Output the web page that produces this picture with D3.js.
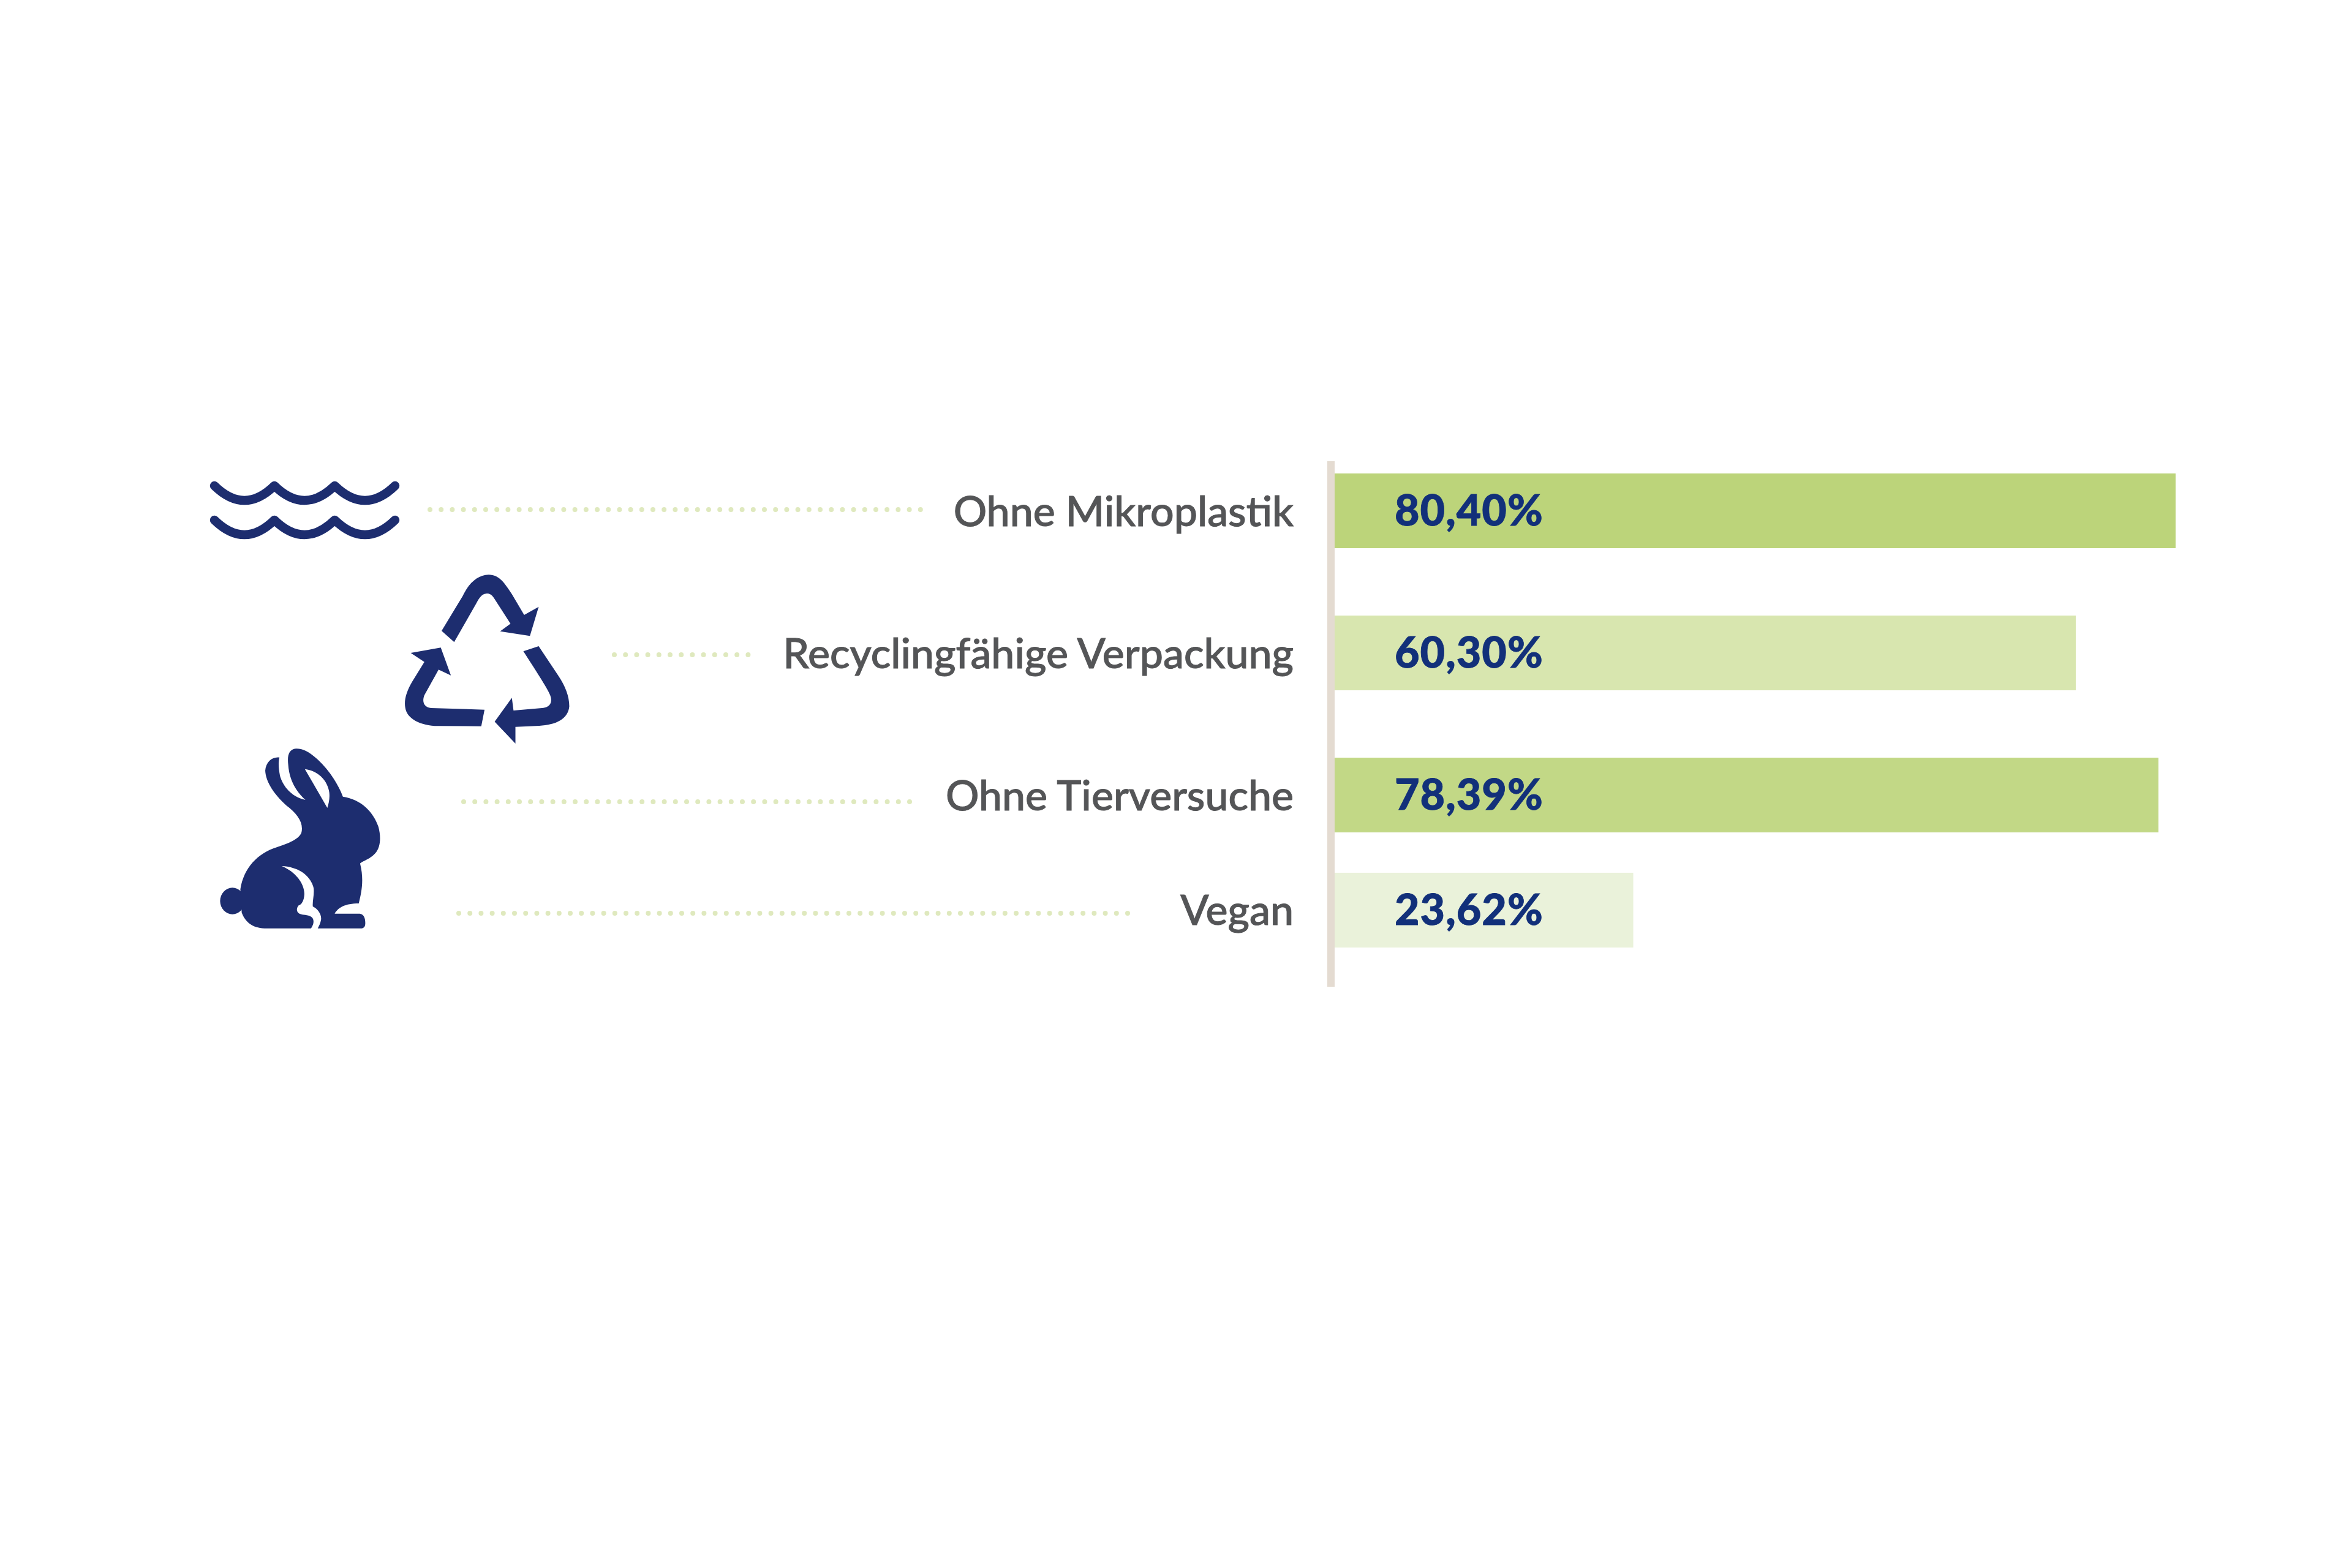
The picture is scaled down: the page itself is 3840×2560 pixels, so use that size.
<!DOCTYPE html>
<html lang="de">
<head>
<meta charset="utf-8">
<title>Produkteigenschaften</title>
<script src="https://cdn.jsdelivr.net/npm/d3@7/dist/d3.min.js"></script>
<style>
html,body{margin:0;padding:0;background:#fff}
svg{display:block}
</style>
</head>
<body>
<div id="chart"></div>
<script>
// Data
const categories = ["Ohne Mikroplastik", "Recyclingfähige Verpackung", "Ohne Tierversuche", "Vegan"];
const valueLabels = ["80,40%", "60,30%", "78,39%", "23,62%"];
// Bar lengths as drawn in the picture, in percent on the scale of the first bar
const barLengths = [80.40, 70.86, 78.76, 28.55];
const barColors = ["#BCD47A", "#D8E6AF", "#C2D886", "#EAF2DA"];
// Row position in units of the regular row step (the last row sits closer)
const rowSlots = [0, 1, 2, 2.81];
// Leader line extents, in page pixels
const leaderStart = [702, 1003, 757, 749];
const leaderEnd = [1505, 1224, 1486, 1843];
const leaderY = [832, 1069, 1309, 1491];

const W = 3840, H = 2560;
const x0 = 2179;
const x = d3.scaleLinear().domain([0, 80.40]).range([x0, 3552]);
const y = d3.scaleLinear().domain([0, 1]).range([773, 1005]);
const barH = 122;
const navy = "#1D2D6F", textNavy = "#12307A", grey = "#545557", dotCol = "#DFE9BE", axisCol = "#E4DBD1";

const svg = d3.select("#chart").append("svg").attr("width", W).attr("height", H).attr("viewBox", `0 0 ${W} ${H}`);
svg.append("rect").attr("width", W).attr("height", H).attr("fill", "#fff");

// Bars
svg.append("g").selectAll("rect").data(categories).join("rect")
  .attr("x", x(0))
  .attr("y", (d, i) => y(rowSlots[i]))
  .attr("width", (d, i) => x(barLengths[i]) - x(0))
  .attr("height", barH)
  .attr("fill", (d, i) => barColors[i]);

// Axis line
svg.append("rect").attr("x", 2167).attr("y", 753).attr("width", 12).attr("height", 858).attr("fill", axisCol);

// Category labels
svg.append("g").selectAll("text").data(categories).join("text")
  .attr("x", 2112)
  .attr("y", (d, i) => y(rowSlots[i]) + 85.5)
  .attr("text-anchor", "end")
  .attr("font-family", "Lato, 'Open Sans', sans-serif")
  .attr("font-size", 68)
  .attr("font-weight", 500)
  .attr("fill", grey)
  .attr("stroke", grey)
  .attr("stroke-width", 1)
  .text(d => d);

// Value labels
svg.append("g").selectAll("text").data(valueLabels).join("text")
  .attr("x", 2277)
  .attr("y", (d, i) => y(rowSlots[i]) + 85)
  .attr("font-family", "Lato, 'Open Sans', sans-serif")
  .attr("font-size", 70)
  .attr("font-weight", 900)
  .attr("letter-spacing", 1)
  .attr("fill", textNavy)
  .attr("stroke", textNavy)
  .attr("stroke-width", 0.8)
  .text(d => d);

// Dotted leaders
svg.append("g").selectAll("line").data(categories).join("line")
  .attr("x1", (d, i) => leaderStart[i])
  .attr("x2", (d, i) => leaderEnd[i])
  .attr("y1", (d, i) => leaderY[i])
  .attr("y2", (d, i) => leaderY[i])
  .attr("stroke", dotCol)
  .attr("stroke-width", 8)
  .attr("stroke-linecap", "round")
  .attr("stroke-dasharray", "0 18.2");

// Icons
const icons = svg.append("g").attr("class", "icons");
const wave = "M350,793Q399,841 448,793Q497,841 546.5,793Q596,841 645,793";
[0, 56].forEach(dy => icons.append("path")
  .attr("d", wave)
  .attr("transform", `translate(0,${dy})`)
  .attr("fill", "none")
  .attr("stroke", navy)
  .attr("stroke-width", 14.5)
  .attr("stroke-linecap", "round")
  .attr("stroke-linejoin", "round"));

const recycleArrows = [
  "M943,930L1020,760C1040,700 1075,655 1115,655C1155,655 1175,700 1200,750L1245,852L1298,812L1266,955L1157,932L1195,895L1135,770C1125,750 1115,745 1105,748C1090,750 1080,770 1070,795L989,985Z",
  "M1100,1316L905,1308C880,1305 870,1280 880,1245L932,1120L977,1148L940,1012L830,1038L880,1082L835,1180C815,1225 805,1270 810,1305C815,1360 865,1395 930,1396L1088,1397Z",
  "M1242,1030L1298,1005L1370,1150C1395,1200 1410,1250 1410,1300C1405,1365 1360,1390 1300,1395L1213,1400L1213,1482L1137,1375L1200,1258L1206,1320L1310,1308C1340,1305 1350,1280 1340,1245C1330,1210 1280,1110 1242,1030Z"
];
const recycle = icons.append("g").attr("transform", `translate(300,720) scale(${1 / 2.24},${1 / 3})`);
recycle.selectAll("path").data(recycleArrows).join("path").attr("d", d => d).attr("fill", navy);

const rabbit = icons.append("g").attr("transform", `translate(300,1180) scale(${1 / 2.24},${1 / 3})`);
rabbit.append("ellipse").attr("cx", 178).attr("cy", 873).attr("rx", 45).attr("ry", 65).attr("fill", navy);
rabbit.append("path").attr("fill", navy).attr("fill-rule", "evenodd").attr("d",
  "M350,170C325,165 300,190 298,235C300,290 330,350 375,405C415,445 440,490 430,540C420,570 385,590 340,610C270,640 220,710 207,815L212,930C225,975 250,1005 295,1007L465,1007C475,990 478,970 470,955C460,940 440,942 430,938C415,935 408,915 420,895C432,890 440,870 441,840C442,790 410,730 358,702C420,705 465,750 475,810C478,840 470,875 472,900C490,910 505,940 502,965C500,980 495,995 490,1007L650,1007C665,1005 665,985 663,965C660,940 650,935 640,935L552,935C565,905 590,885 640,885C650,830 660,770 645,690C650,680 680,670 700,640C720,610 722,560 712,510C695,440 650,375 582,362C565,300 530,230 490,180C465,150 440,125 410,127C385,130 378,160 382,205C385,270 405,330 445,378C400,365 365,320 352,260C347,225 345,195 350,170Z" +
  "M443,227C490,235 525,280 532,340C535,370 530,395 525,417Z");
</script>
</body>
</html>
